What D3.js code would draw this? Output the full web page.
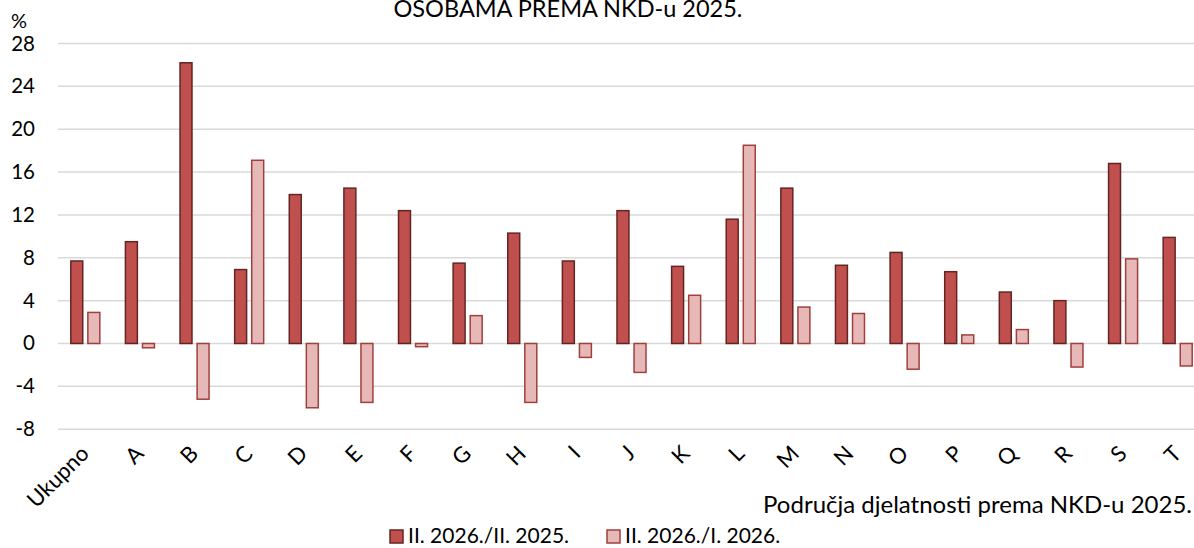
<!DOCTYPE html>
<head>
<meta charset="utf-8">
<style>
body { margin: 0; background: #fff; }
* { font-family: Lato, "Open Sans", sans-serif; }
</style>
</head>
<body>
<svg width="1194" height="548"></svg>
<script src="https://d3js.org/d3.v7.min.js"></script>
<script>

var categories = ["Ukupno","A","B","C","D","E","F","G","H","I","J","K","L","M","N","O","P","Q","R","S","T"];
var yoy = [7.7, 9.5, 26.2, 6.9, 13.9, 14.5, 12.4, 7.5, 10.3, 7.7, 12.4, 7.2, 11.6, 14.5, 7.3, 8.5, 6.7, 4.8, 4.0, 16.8, 9.9];
var mom = [2.9, -0.4, -5.2, 17.1, -6.0, -5.5, -0.3, 2.6, -5.5, -1.3, -2.7, 4.5, 18.5, 3.4, 2.8, -2.4, 0.8, 1.3, -2.2, 7.9, -2.1];
var seriesNames = ["II. 2026./II. 2025.", "II. 2026./I. 2026."];
var yTicks = [-8, -4, 0, 4, 8, 12, 16, 20, 24, 28];

var fills = ["#C0504D", "#E6B9B8"];
var strokes = ["#632523", "#A0403D"];

var svg = d3.select("svg");

var x = d3.scaleBand().domain(categories).range([58, 1205]);
var y = d3.scaleLinear().domain([-8, 28]).range([429.2, 43.5]);
var sub = d3.scaleBand().domain([0, 1]).range([0, x.bandwidth()]).paddingInner(0.3).paddingOuter(0.75);

// title line (cut at the top, as in the source)
svg.append("text").attr("x", 568).attr("y", 17).attr("text-anchor", "middle")
  .attr("font-size", 23.5).attr("fill", "#000").text("OSOBAMA PREMA NKD-u 2025.");

// grid
svg.append("g").selectAll("line").data(yTicks).enter().append("line")
  .attr("x1", 58).attr("x2", 1194)
  .attr("y1", function(d) { return y(d); }).attr("y2", function(d) { return y(d); })
  .attr("stroke", "#d9d9d9").attr("stroke-width", 1.5);

// y labels
svg.append("g").selectAll("text").data(yTicks).enter().append("text")
  .attr("x", 35).attr("y", function(d) { return y(d) + 7; })
  .attr("text-anchor", "end").attr("font-size", 20.5).attr("fill", "#000")
  .text(function(d) { return d; });
svg.append("text").attr("x", 11).attr("y", 28).attr("font-size", 20).text("%");

// bars
[yoy, mom].forEach(function(vals, s) {
  svg.append("g").selectAll("rect").data(vals).enter().append("rect")
    .attr("x", function(d, i) { return x(categories[i]) + sub(s); })
    .attr("width", sub.bandwidth())
    .attr("y", function(d) { return y(Math.max(0, d)); })
    .attr("height", function(d) { return Math.abs(y(d) - y(0)); })
    .attr("fill", fills[s]).attr("stroke", strokes[s]).attr("stroke-width", 1.5);
});

// x labels
svg.append("g").selectAll("text").data(categories).enter().append("text")
  .attr("transform", function(d) { return "translate(" + (x(d) + x.bandwidth() / 2 + 5) + ",455) rotate(-45)"; })
  .attr("text-anchor", "end").attr("font-size", 22).attr("fill", "#000")
  .text(function(d) { return d; });

// x axis title
svg.append("text").attr("x", 1192).attr("y", 513).attr("text-anchor", "end")
  .attr("font-size", 24).attr("fill", "#000").text("Područja djelatnosti prema NKD-u 2025.");

// legend
var lx = [390, 607];
seriesNames.forEach(function(name, s) {
  svg.append("rect").attr("x", lx[s]).attr("y", 530).attr("width", 13).attr("height", 13)
    .attr("fill", fills[s]).attr("stroke", strokes[s]).attr("stroke-width", 1.5);
  svg.append("text").attr("x", lx[s] + 18).attr("y", 543).attr("font-size", 21)
    .attr("fill", "#000").text(name);
});

</script>
</body>
